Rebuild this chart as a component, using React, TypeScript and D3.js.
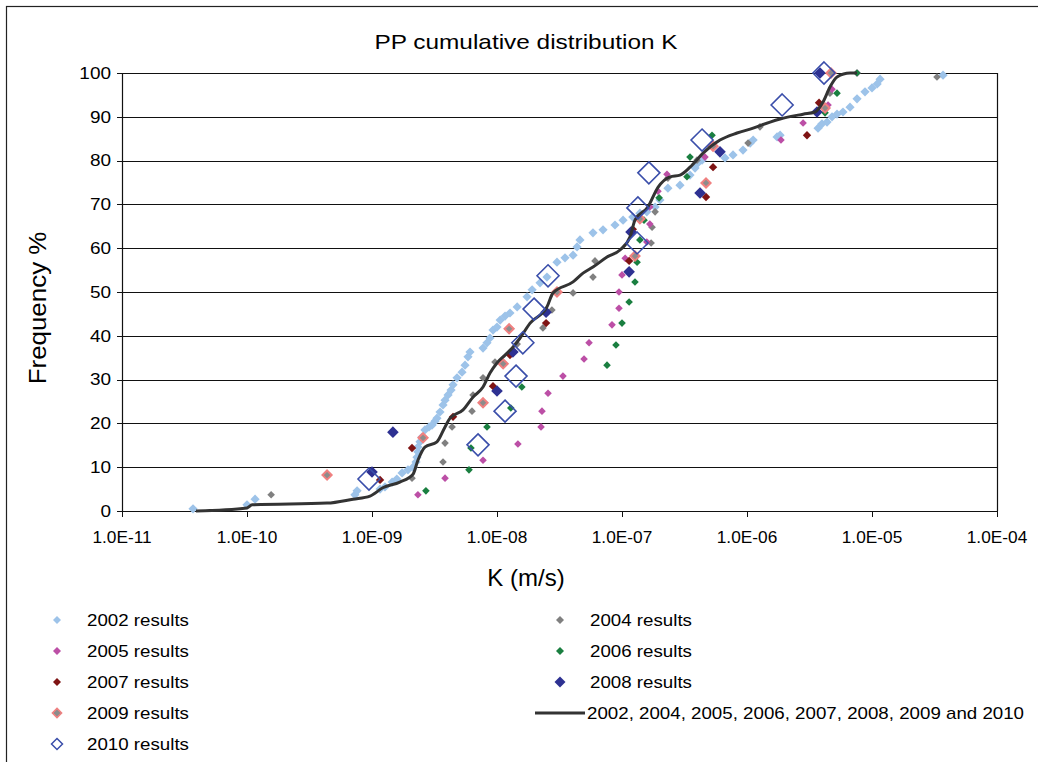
import React from "react";
import * as d3 from "d3";

// ---- data ----
const xTickValues = [1e-11, 1e-10, 1e-9, 1e-8, 1e-7, 1e-6, 1e-5, 1e-4];
const xTickLabels = ["1.0E-11", "1.0E-10", "1.0E-09", "1.0E-08", "1.0E-07", "1.0E-06", "1.0E-05", "1.0E-04"];
const yTickValues = [0, 10, 20, 30, 40, 50, 60, 70, 80, 90, 100];

const K2002 = [3.7e-11, 1.0e-10, 1.16e-10, 7.3e-10, 7.6e-10, 1.16e-9, 1.27e-9, 1.45e-9, 1.58e-9, 1.74e-9,
  1.94e-9, 2.13e-9, 2.25e-9, 2.29e-9, 2.33e-9, 2.33e-9, 2.42e-9, 2.51e-9, 2.65e-9, 2.86e-9,
  3.02e-9, 3.19e-9, 3.31e-9, 3.5e-9, 3.7e-9, 3.84e-9, 4.06e-9, 4.29e-9, 4.45e-9, 4.79e-9,
  5.25e-9, 5.55e-9, 5.86e-9, 6.08e-9, 7.73e-9, 8.32e-9, 8.79e-9, 9.29e-9, 1.0e-8, 1.06e-8,
  1.16e-8, 1.27e-8, 1.45e-8, 1.74e-8, 1.91e-8, 2.21e-8, 2.51e-8, 3.02e-8, 3.5e-8, 4.06e-8,
  4.37e-8, 4.61e-8, 5.86e-8, 7.05e-8, 8.79e-8, 1.02e-7, 1.22e-7, 1.39e-7, 1.58e-7, 1.84e-7,
  2.01e-7, 2.33e-7, 2.91e-7, 3.5e-7, 3.84e-7, 4.06e-7, 4.37e-7, 6.67e-7, 7.73e-7, 9.29e-7,
  1.06e-6, 1.12e-6, 1.74e-6, 1.84e-6, 3.7e-6, 3.98e-6, 4.37e-6, 4.79e-6, 5.25e-6, 5.86e-6,
  6.67e-6, 7.59e-6, 8.79e-6, 1.0e-5, 1.1e-5, 1.16e-5, 3.7e-5];
const F2002 = [0.5, 1.4, 2.7, 3.7, 4.6, 5.0, 5.5, 6.6, 7.3, 8.7,
  9.4, 10.0, 11.2, 12.3, 13.5, 14.6, 15.8, 16.9, 18.5, 19.2,
  19.6, 20.5, 21.2, 22.6, 24.2, 25.3, 26.5, 27.6, 28.8, 30.4,
  31.7, 33.3, 35.2, 36.3, 37.2, 38.4, 39.5, 41.3, 42.0, 43.6,
  44.5, 45.2, 46.6, 48.9, 50.5, 52.1, 53.4, 56.8, 57.8, 58.4,
  60.3, 61.9, 63.5, 64.2, 65.3, 66.4, 67.1, 68.0, 68.3, 69.4,
  71.0, 73.7, 74.4, 76.7, 78.3, 79.5, 80.1, 80.6, 81.3, 82.4,
  84.0, 84.7, 85.4, 85.8, 87.4, 88.4, 88.8, 90.0, 90.6, 91.1,
  92.2, 94.1, 95.7, 96.6, 97.5, 98.6, 99.5];

const K2004 = [1.56e-10, 2.09e-9, 3.7e-9, 3.84e-9, 4.37e-9, 6.31e-9, 6.43e-9, 7.73e-9, 9.64e-9, 1.45e-8,
  2.33e-8, 2.75e-8, 4.06e-8, 5.86e-8, 6.08e-8, 1.71e-7, 1.74e-7, 1.84e-7, 2.33e-7, 3.98e-7,
  1.02e-6, 1.27e-6, 4.61e-6, 3.31e-5];
const F2004 = [3.7, 7.5, 11.2, 15.5, 19.2, 22.8, 26.5, 30.4, 34.0, 38.1,
  41.8, 45.9, 49.8, 53.4, 57.1, 61.2, 64.8, 68.3, 76.0, 80.1,
  84.0, 87.7, 95.4, 99.1];

const K2005 = [2.33e-9, 3.84e-9, 7.73e-9, 1.47e-8, 2.25e-8, 2.29e-8, 2.56e-8, 3.37e-8, 4.97e-8, 5.45e-8,
  8.32e-8, 9.46e-8, 9.46e-8, 1.0e-7, 1.06e-7, 1.58e-7, 1.67e-7, 1.67e-7, 1.94e-7, 2.29e-7,
  4.61e-7, 1.87e-6, 2.81e-6, 4.45e-6, 4.79e-6, 7.59e-6];
const F2005 = [3.7, 7.5, 11.6, 15.3, 19.2, 22.8, 26.9, 30.8, 34.7, 38.4,
  42.5, 46.3, 50.0, 53.9, 57.7, 61.4, 65.5, 69.4, 73.0, 76.9,
  80.8, 84.7, 88.6, 92.7, 96.3, 100];

const K2006 = [2.7e-9, 5.97e-9, 6.19e-9, 8.32e-9, 1.29e-8, 1.58e-8, 7.59e-8, 8.95e-8, 1.0e-7, 1.14e-7,
  1.27e-7, 1.32e-7, 1.39e-7, 1.5e-7, 1.98e-7, 3.31e-7, 3.5e-7, 5.25e-7, 4.21e-6, 5.25e-6, 7.59e-6];
const F2006 = [4.6, 9.4, 14.4, 19.2, 23.5, 28.3, 33.3, 37.9, 42.9, 47.7,
  52.3, 56.8, 61.9, 66.4, 71.5, 76.3, 80.8, 85.8, 90.9, 95.4, 100];

const K2007 = [1.16e-9, 2.09e-9, 4.45e-9, 9.29e-9, 1.27e-8, 2.47e-8, 1.14e-7, 1.22e-7, 4.7e-7, 5.35e-7, 3.02e-6, 3.77e-6];
const F2007 = [7.1, 14.4, 21.5, 28.5, 35.6, 42.9, 57.1, 64.3, 71.7, 78.5, 85.8, 93.2];

const K2008 = [1.0e-9, 1.47e-9, 1.0e-8, 1.34e-8, 2.47e-8, 1.14e-7, 1.18e-7, 4.21e-7, 6.08e-7, 3.63e-6, 3.84e-6];
const F2008 = [8.9, 18.0, 27.4, 36.3, 45.4, 54.6, 63.7, 72.6, 82.0, 91.1, 100];

const K2009 = [4.37e-10, 2.56e-9, 7.73e-9, 1.12e-8, 1.25e-8, 3.02e-8, 1.27e-7, 1.39e-7, 4.7e-7, 5.35e-7, 4.21e-6, 4.7e-6];
const F2009 = [8.2, 16.7, 24.7, 33.6, 41.6, 50.0, 58.2, 66.7, 74.9, 83.3, 92.0, 100];

const K2010 = [9.46e-10, 7.05e-9, 1.16e-8, 1.42e-8, 1.61e-8, 1.98e-8, 2.56e-8, 1.32e-7, 1.34e-7, 1.64e-7, 4.37e-7, 1.91e-6, 4.13e-6];
const F2010 = [7.3, 15.1, 22.8, 30.8, 38.4, 46.1, 53.7, 61.2, 69.2, 77.2, 84.7, 92.7, 100];

const KAll = [3.91e-11, 1.0e-10, 1.1e-10, 4.37e-10, 7.05e-10, 9.64e-10, 1.22e-9, 1.67e-9, 2.13e-9, 2.33e-9,
  2.65e-9, 3.31e-9, 3.84e-9, 4.21e-9, 5.35e-9, 6.43e-9, 7.73e-9, 8.79e-9, 1.0e-8, 1.16e-8,
  1.34e-8, 1.53e-8, 1.84e-8, 2.51e-8, 2.81e-8, 4.06e-8, 4.88e-8, 5.86e-8, 7.59e-8, 9.64e-8,
  1.16e-7, 1.27e-7, 1.61e-7, 1.94e-7, 2.42e-7, 2.91e-7, 3.5e-7, 4.45e-7, 6.08e-7, 8.32e-7,
  1.12e-6, 1.53e-6, 1.84e-6, 2.81e-6, 3.5e-6, 4.06e-6, 4.61e-6, 5.25e-6, 6.67e-6, 7.59e-6];
const FAll = [0, 0.7, 1.4, 1.8, 2.7, 3.4, 5.3, 6.6, 8.4, 11.6,
  14.6, 15.8, 19.2, 21.2, 23.1, 26.0, 28.3, 31.5, 33.8, 35.6,
  37.4, 39.5, 42.9, 46.6, 49.8, 52.3, 54.3, 55.7, 58.0, 59.6,
  62.6, 66.4, 69.4, 73.9, 76.3, 76.7, 78.5, 81.7, 84.7, 86.3,
  87.4, 88.8, 89.5, 90.6, 91.1, 93.4, 96.8, 99.1, 100, 100];

type Marker = { name: string; fill: string; stroke: string; sw: number; r: number; lr: number };

const series: { k: number[]; f: number[]; m: Marker }[] = [
  { k: K2002, f: F2002, m: { name: "2002 results", fill: "#9dc3e9", stroke: "none", sw: 0, r: 4.6, lr: 4 } },
  { k: K2004, f: F2004, m: { name: "2004 results", fill: "#808080", stroke: "none", sw: 0, r: 3.8, lr: 4 } },
  { k: K2005, f: F2005, m: { name: "2005 results", fill: "#bc4fa6", stroke: "none", sw: 0, r: 3.8, lr: 4 } },
  { k: K2006, f: F2006, m: { name: "2006 results", fill: "#1a7f40", stroke: "none", sw: 0, r: 3.8, lr: 4 } },
  { k: K2007, f: F2007, m: { name: "2007 results", fill: "#7f1414", stroke: "none", sw: 0, r: 4.2, lr: 4 } },
  { k: K2008, f: F2008, m: { name: "2008 results", fill: "#2e3192", stroke: "none", sw: 0, r: 5.8, lr: 5.5 } },
  { k: K2009, f: F2009, m: { name: "2009 results", fill: "#8c8c8c", stroke: "#f08080", sw: 2, r: 4.6, lr: 4.6 } },
];
const series2010 = { k: K2010, f: F2010, m: { name: "2010 results", fill: "none", stroke: "#3a4eaa", sw: 1.6, r: 11, lr: 5.5 } };
const lineName = "2002, 2004, 2005, 2006, 2007, 2008, 2009 and 2010";

const W = 1038, H = 762;
const x = d3.scaleLog().domain([1e-11, 1e-4]).range([122, 997]);
const y = d3.scaleLinear().domain([0, 100]).range([511, 73]);

const diamond = (cx: number, cy: number, r: number) =>
  `M${cx},${cy - r}L${cx + r},${cy}L${cx},${cy + r}L${cx - r},${cy}Z`;

const font = "'Liberation Sans', Arial, sans-serif";

function T({ x: tx, y: ty, sx, size, anchor, rotate, children }: any) {
  const tr = `translate(${tx},${ty})${rotate ? ` rotate(${rotate})` : ""} scale(${sx},1)`;
  return (
    <text transform={tr} textAnchor={anchor || "start"} fontSize={size} fill="#000" dy="0.35em">
      {children}
    </text>
  );
}

function Markers({ k, f, m }: { k: number[]; f: number[]; m: Marker }) {
  return (
    <g>
      {k.map((kv, i) => (
        <path key={i} d={diamond(x(kv), y(f[i]), m.r)} fill={m.fill} stroke={m.stroke} strokeWidth={m.sw} />
      ))}
    </g>
  );
}

export default function App() {
  const lineGen = d3
    .line<number>()
    .x((_, i) => x(KAll[i]))
    .y((d) => y(d))
    .curve(d3.curveMonotoneX);
  const linePath = lineGen(FAll) || "";

  const legendItems: { col: number; row: number; m?: Marker; line?: boolean; name: string }[] = [
    { col: 0, row: 0, m: series[0].m, name: series[0].m.name },
    { col: 1, row: 0, m: series[1].m, name: series[1].m.name },
    { col: 0, row: 1, m: series[2].m, name: series[2].m.name },
    { col: 1, row: 1, m: series[3].m, name: series[3].m.name },
    { col: 0, row: 2, m: series[4].m, name: series[4].m.name },
    { col: 1, row: 2, m: series[5].m, name: series[5].m.name },
    { col: 0, row: 3, m: series[6].m, name: series[6].m.name },
    { col: 1, row: 3, line: true, name: lineName },
    { col: 0, row: 4, m: series2010.m, name: series2010.m.name },
  ];

  return (
    <svg width={W} height={H} style={{ position: "absolute", left: 0, top: 0, background: "#fff" }} fontFamily={font}>
      <rect x={0} y={0} width={W} height={H} fill="#fff" />
      <rect x={6.5} y={6.5} width={W + 20} height={H + 20} fill="none" stroke="#222" strokeWidth={1.2} />
      {/* gridlines */}
      {yTickValues.map((v) => (
        <line key={v} x1={122} x2={997} y1={Math.round(y(v)) + 0.5} y2={Math.round(y(v)) + 0.5} stroke="#111" strokeWidth={1.2} />
      ))}
      <line x1={122.5} x2={122.5} y1={y(100)} y2={y(0)} stroke="#111" strokeWidth={1.2} />
      <line x1={997.5} x2={997.5} y1={y(100)} y2={y(0)} stroke="#111" strokeWidth={1.2} />
      {yTickValues.map((v) => (
        <line key={"yt" + v} x1={117} x2={122} y1={Math.round(y(v)) + 0.5} y2={Math.round(y(v)) + 0.5} stroke="#111" />
      ))}
      {xTickValues.map((v) => (
        <line key={"xt" + v} x1={Math.round(x(v)) + 0.5} x2={Math.round(x(v)) + 0.5} y1={511} y2={517} stroke="#111" />
      ))}
      {/* tick labels */}
      {yTickValues.map((v) => (
        <T key={"yl" + v} x={111} y={y(v)} sx={1.15} size={16.5} anchor="end">
          {v}
        </T>
      ))}
      {xTickValues.map((v, i) => (
        <T key={"xl" + v} x={x(v)} y={537} sx={1.08} size={16} anchor="middle">
          {xTickLabels[i]}
        </T>
      ))}
      {/* titles */}
      <T x={526} y={42} sx={1.22} size={20} anchor="middle">
        PP cumulative distribution K
      </T>
      <T x={526} y={578} sx={1.0} size={24} anchor="middle">
        K (m/s)
      </T>
      <T x={38} y={308} sx={1.08} size={24} anchor="middle" rotate={-90}>
        Frequency %
      </T>
      {/* series */}
      <Markers {...series[0]} />
      {series.slice(1).map((s) => (
        <Markers key={s.m.name} {...s} />
      ))}
      <path d={linePath} fill="none" stroke="#333" strokeWidth={3} />
      <Markers {...series2010} />
      {/* legend */}
      {legendItems.map((it) => {
        const cx = it.col === 0 ? 57 : 560;
        const tx = it.col === 0 ? 87 : 590;
        const cy = 620 + it.row * 31;
        return (
          <g key={it.name}>
            {it.line ? (
              <line x1={535} x2={585} y1={cy} y2={cy} stroke="#333" strokeWidth={3} />
            ) : (
              <path d={diamond(cx, cy, it.m!.lr)} fill={it.m!.fill} stroke={it.m!.stroke} strokeWidth={it.m!.sw ? 1.5 : 0} />
            )}
            <T x={it.line ? 587 : tx} y={cy} sx={1.17} size={16}>
              {it.name}
            </T>
          </g>
        );
      })}
    </svg>
  );
}
